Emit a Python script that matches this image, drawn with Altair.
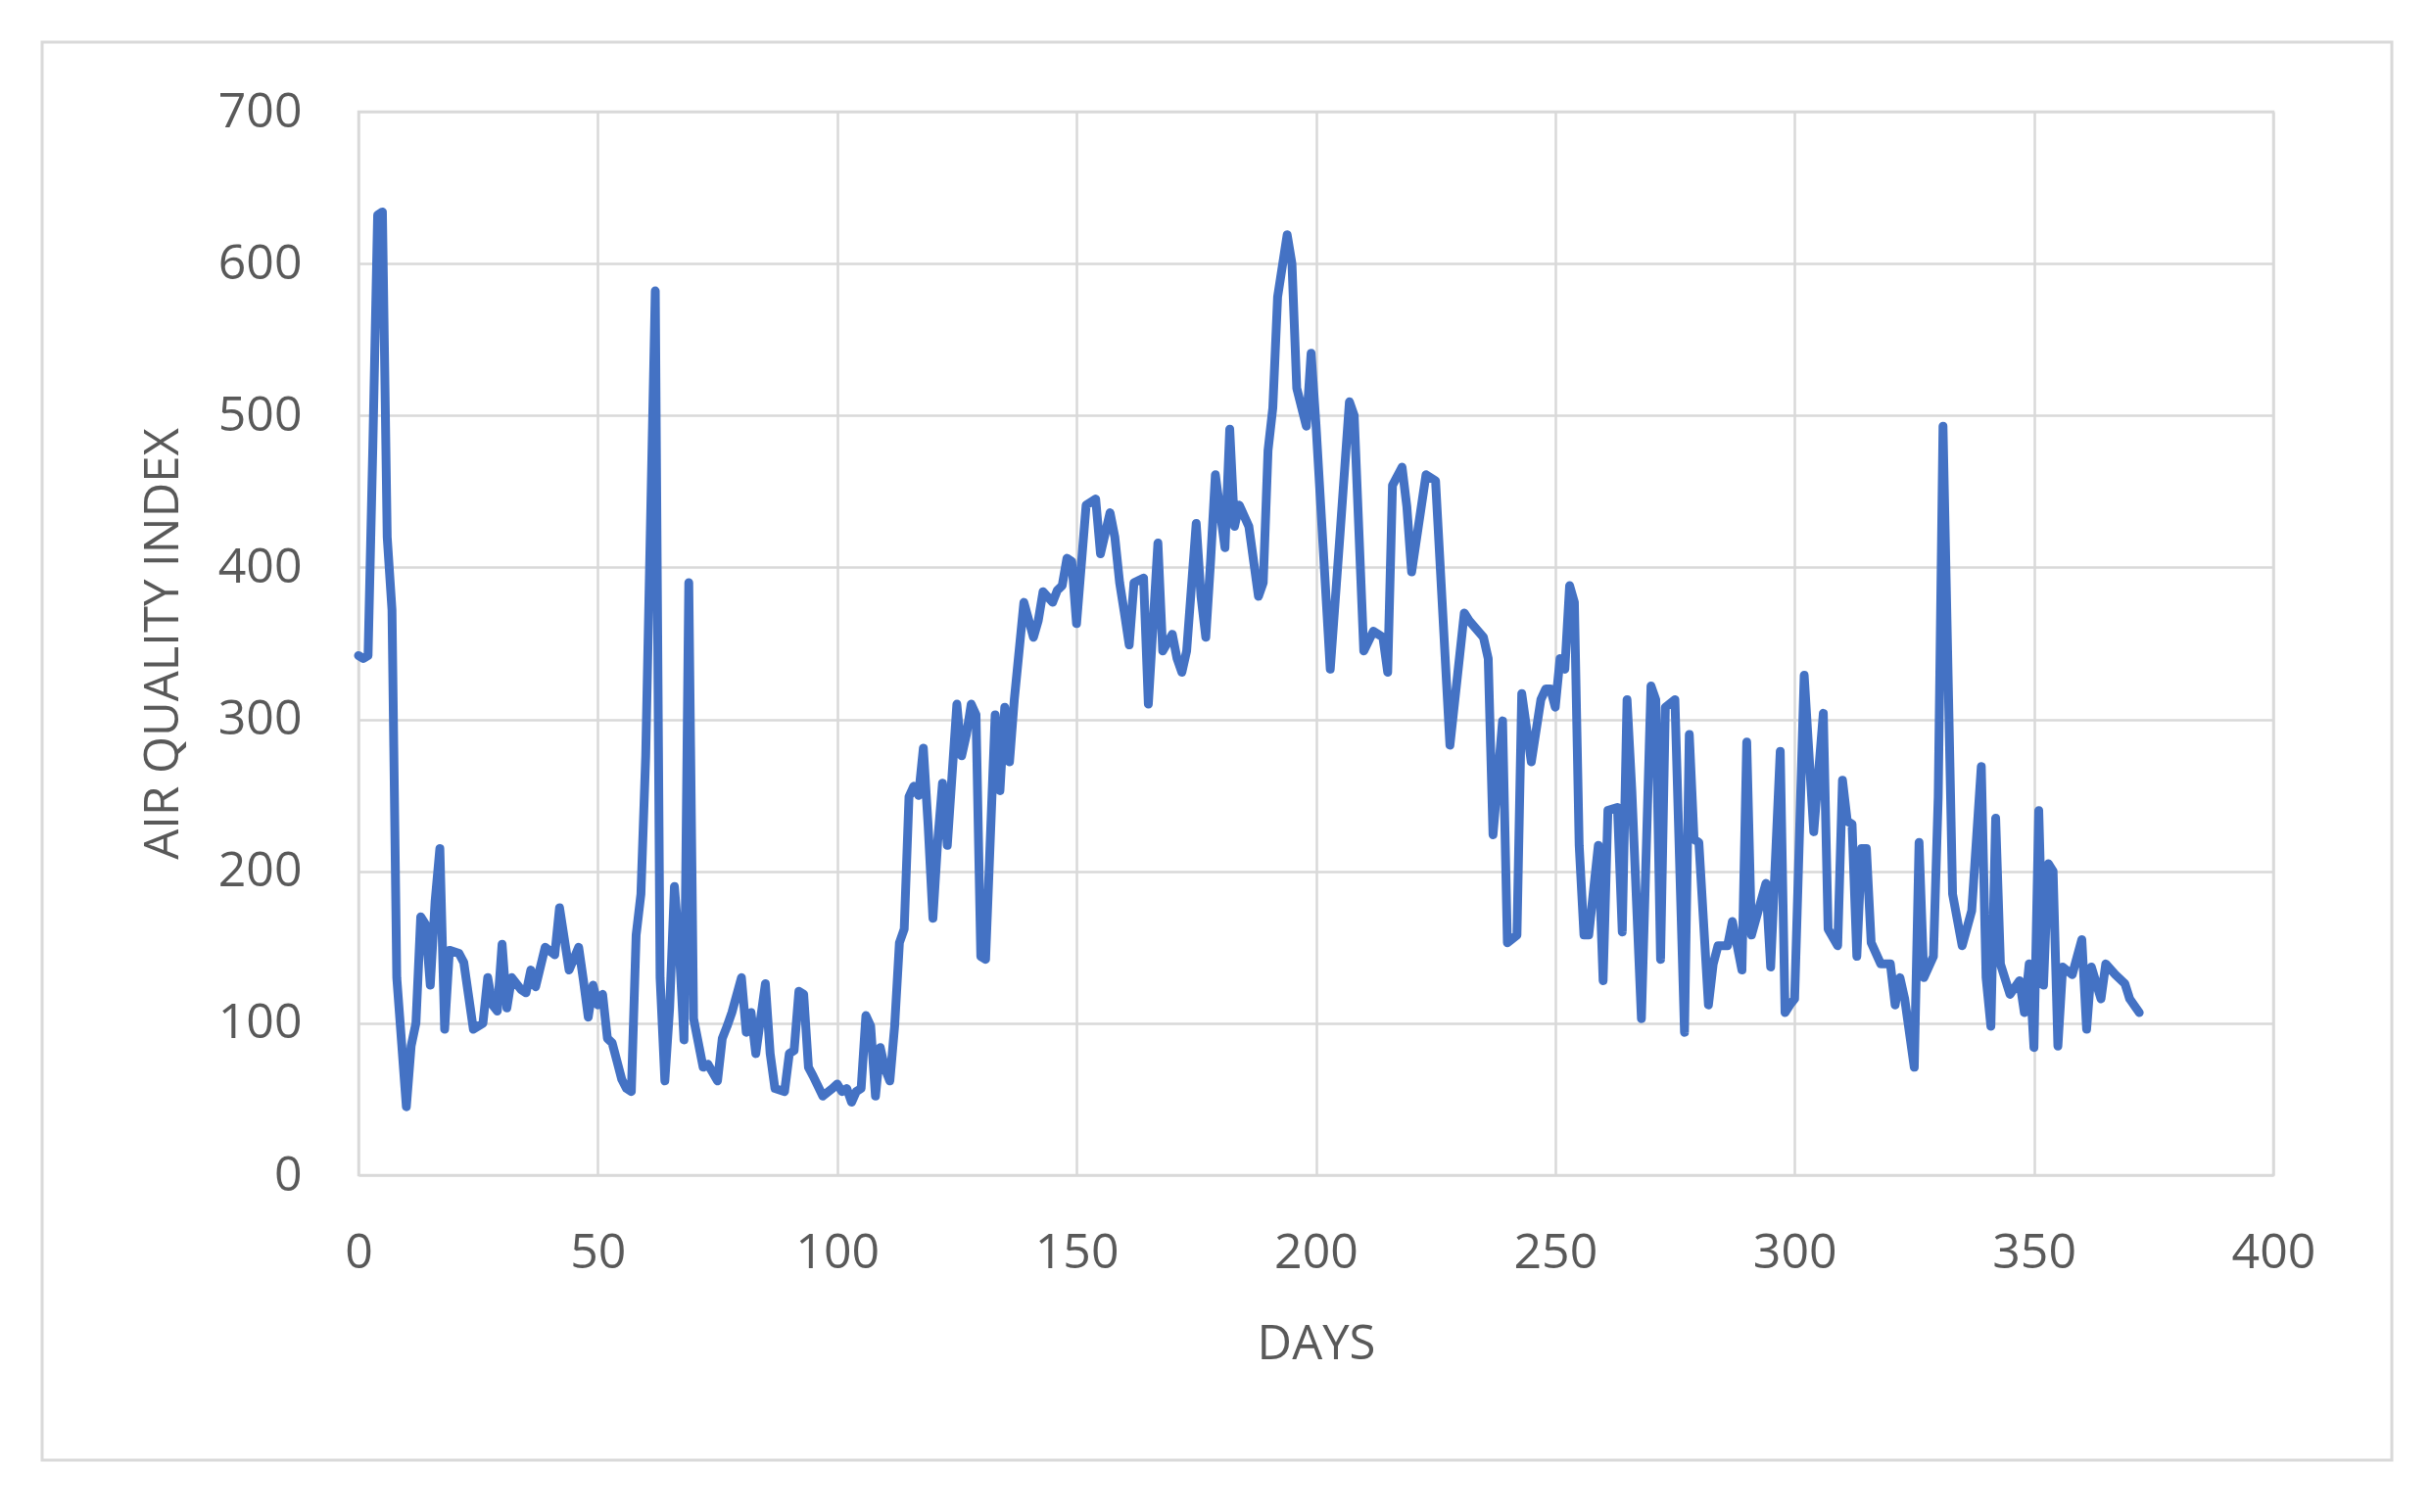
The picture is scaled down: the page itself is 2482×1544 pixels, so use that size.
import altair as alt
import pandas as pd

days = [0, 1, 2, 3, 4, 5, 6, 7, 8, 10, 11, 12, 13, 14, 15, 16, 17, 18, 19, 21,
        22, 24, 26, 27, 28, 29, 30, 31, 32, 34, 35, 36, 37, 39, 41, 42, 44, 46, 47, 48,
        49, 50, 51, 52, 53, 54, 55, 56, 57, 58, 59, 60, 62, 63, 64, 65, 66, 67, 68, 69,
        70, 72, 73, 75, 76, 77, 78, 80, 81, 82, 83, 85, 86, 87, 89, 90, 91, 92, 93, 94,
        95, 97, 99, 100, 101, 102, 103, 104, 105, 106, 107, 108, 109, 110, 111, 112, 113, 114, 115, 116,
        117, 118, 119, 120, 121, 122, 123, 125, 126, 127, 128, 129, 130, 131, 133, 134, 135, 136, 137, 139,
        141, 142, 143, 145, 146, 147, 148, 149, 150, 152, 154, 155, 157, 158, 159, 160, 161, 162, 164, 165,
        167, 168, 170, 171, 172, 173, 175, 176, 177, 178, 179, 181, 182, 183, 184, 186, 188, 189, 190, 191,
        192, 194, 195, 196, 198, 199, 200, 203, 205, 207, 208, 210, 212, 214, 215, 216, 218, 219, 220, 223,
        225, 228, 231, 232, 235, 236, 237, 239, 240, 242, 243, 245, 247, 248, 249, 250, 251, 252, 253, 254,
        255, 256, 257, 259, 260, 261, 263, 264, 265, 266, 268, 270, 271, 272, 273, 275, 277, 278, 279, 280,
        282, 283, 284, 286, 287, 289, 290, 291, 294, 295, 297, 298, 299, 300, 302, 304, 306, 307, 309, 310,
        311, 312, 313, 314, 315, 316, 318, 320, 321, 322, 323, 325, 326, 327, 329, 330, 331, 333, 335, 337,
        339, 340, 341, 342, 343, 345, 347, 348, 349, 350, 351, 352, 353, 354, 355, 356, 358, 360, 361, 362,
        364, 365, 367, 369, 370, 372]

aqi = [342, 340, 342, 480, 632, 634, 420, 372, 130, 45, 85, 100, 170, 165, 125, 180, 215, 96, 148, 146,
       140, 96, 100, 130, 112, 108, 152, 110, 130, 122, 120, 135, 124, 150, 145, 176, 135, 150, 128, 104,
       125, 112, 119, 90, 87, 75, 63, 57, 55, 158, 185, 276, 582, 130, 62, 110, 190, 150, 89, 390,
       103, 71, 73, 62, 90, 98, 107, 130, 94, 107, 80, 126, 80, 57, 55, 80, 82, 121, 119, 71,
       65, 52, 57, 60, 55, 57, 48, 55, 57, 105, 98, 52, 84, 70, 62, 98, 153, 162, 249, 256,
       250, 281, 230, 169, 220, 258, 217, 310, 276, 290, 310, 303, 144, 142, 303, 253, 308, 272, 313, 377,
       354, 365, 384, 377, 385, 388, 406, 404, 363, 441, 445, 409, 436, 420, 390, 370, 349, 390, 393, 310,
       416, 345, 356, 340, 331, 345, 429, 381, 354, 404, 461, 413, 491, 427, 441, 427, 381, 390, 477, 505,
       578, 619, 600, 518, 493, 541, 495, 333, 420, 509, 500, 345, 358, 354, 331, 454, 466, 440, 397, 461,
       457, 283, 370, 365, 354, 340, 224, 299, 153, 158, 317, 272, 313, 320, 320, 308, 340, 333, 388, 377,
       217, 158, 158, 217, 128, 240, 242, 160, 313, 253, 103, 322, 313, 142, 308, 313, 94, 290, 221, 219,
       112, 139, 151, 151, 167, 135, 285, 158, 192, 137, 279, 107, 112, 116, 329, 226, 304, 162, 151, 260,
       233, 231, 144, 215, 215, 153, 139, 139, 112, 130, 116, 71, 219, 130, 144, 249, 493, 185, 151, 174,
       269, 130, 98, 235, 139, 119, 128, 107, 139, 84, 240, 125, 205, 200, 85, 137, 132, 155, 96, 137,
       116, 139, 132, 126, 116, 107]

x_ticks = [0, 50, 100, 150, 200, 250, 300, 350, 400]
y_ticks = [0, 100, 200, 300, 400, 500, 600, 700]

df = pd.DataFrame({"day": days, "aqi": aqi})

FONT = "Open Sans"
GREY = "#595959"
GRID = "#d9d9d9"

W, H = 1955, 1086

line = alt.Chart(df).mark_line(
    color="#4472C4", strokeWidth=9, strokeJoin="round", strokeCap="round"
).encode(
    x=alt.X("day:Q", scale=alt.Scale(domain=[0, 400], nice=False),
            axis=alt.Axis(values=x_ticks, title="DAYS", grid=True, gridColor=GRID, gridWidth=2.5,
                          domain=False, ticks=False, labelPadding=54, labelFontSize=50,
                          labelFlush=False, labelOverlap=False,
                          labelColor=GREY, labelFont=FONT, titleFont=FONT, titleFontSize=49,
                          titleFontWeight="normal", titleColor=GREY, titleY=172,
                          titleBaseline="middle")),
    y=alt.Y("aqi:Q", scale=alt.Scale(domain=[0, 700], nice=False),
            axis=alt.Axis(values=y_ticks, title="AIR QUALITY INDEX", grid=True, gridColor=GRID,
                          gridWidth=2.5, domain=False, ticks=False, labelPadding=58,
                          labelFlush=False, labelOverlap=False,
                          labelFontSize=50, labelColor=GREY, labelFont=FONT, titleFont=FONT,
                          titleFontSize=49, titleFontWeight="normal", titleColor=GREY,
                          titleX=-200, titleY=543, titleAngle=-90, titleBaseline="middle",
                          titleAlign="center")),
)

border = alt.Chart(pd.DataFrame({"k": [0]})).mark_rect(
    fill="transparent", stroke=GRID, strokeWidth=3, clip=False
).encode(
    x=alt.value(-323), x2=alt.value(2076), y=alt.value(-71), y2=alt.value(1377)
)

chart = alt.layer(border, line).properties(
    width=W, height=H,
    autosize=alt.AutoSizeParams(type="none"),
    padding={"left": 358, "top": 106, "right": 140, "bottom": 310},
    background="white",
).configure_view(stroke=GRID, strokeWidth=2.5)

chart.save("out.html", embed_options={"renderer": "svg", "actions": False})
